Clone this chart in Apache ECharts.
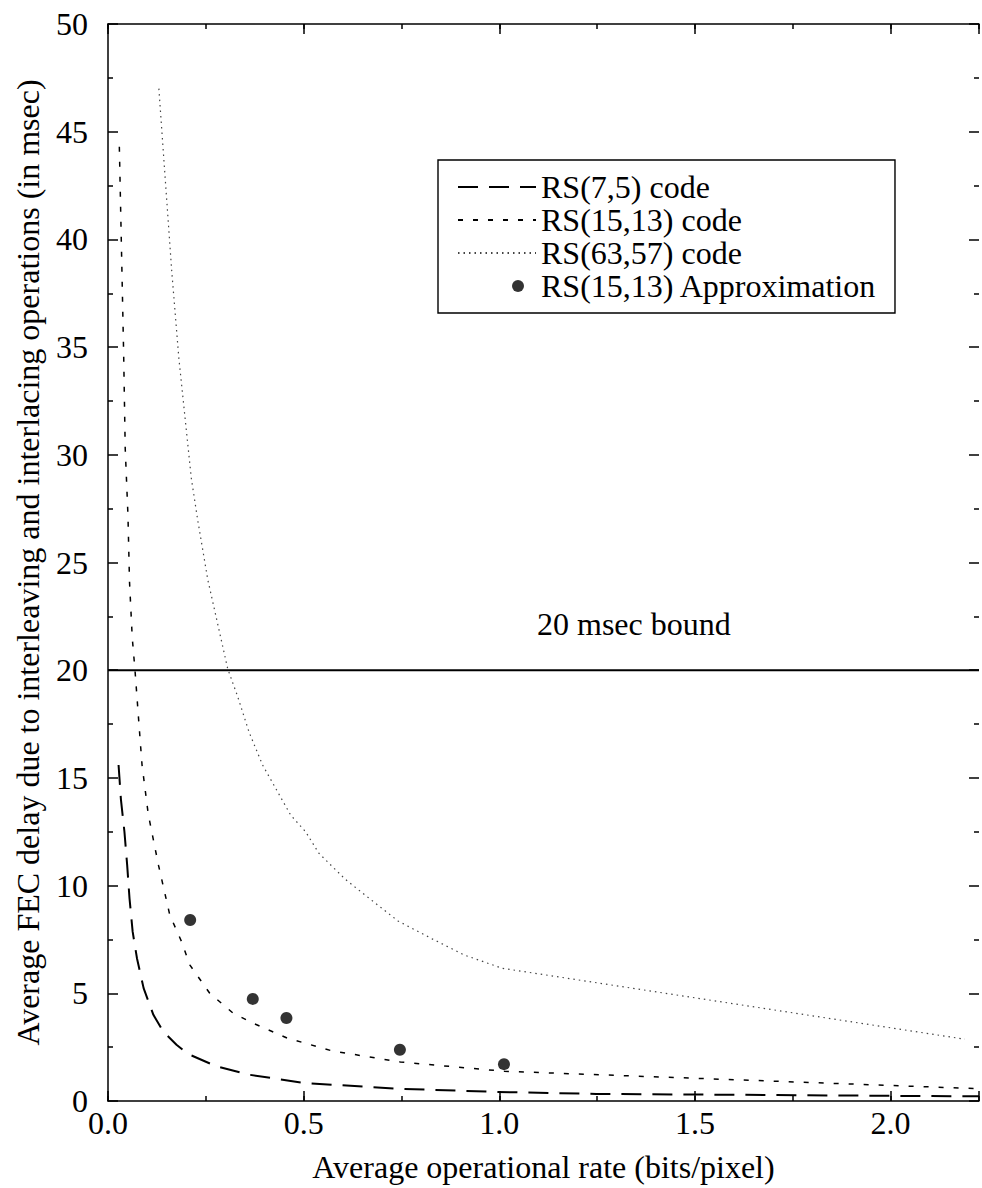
<!DOCTYPE html>
<html>
<head>
<meta charset="utf-8">
<title>FEC delay vs operational rate</title>
<script src="https://cdn.jsdelivr.net/npm/echarts@6/dist/echarts.min.js"></script>
<style>
  html, body { margin: 0; padding: 0; background: #fff; }
  #chart { width: 982px; height: 1188px; }
</style>
</head>
<body>
<div id="chart"></div>
<script>
// RS(7,5) code
const rs75X = [0.027, 0.033, 0.042, 0.049, 0.055, 0.063, 0.074, 0.091, 0.116, 0.141, 0.175, 0.205, 0.277, 0.361, 0.505, 0.741, 0.995, 1.248, 1.5, 2.0, 2.226];
const rs75Y = [15.6, 14.0, 12.5, 10.95, 9.4, 7.86, 6.63, 5.24, 4.0, 3.23, 2.61, 2.18, 1.61, 1.22, 0.83, 0.57, 0.42, 0.33, 0.3, 0.24, 0.22];

// RS(15,13) code
const rs1513X = [0.029, 0.040, 0.044, 0.051, 0.055, 0.062, 0.069, 0.082, 0.087, 0.103, 0.129, 0.158, 0.188, 0.209, 0.26, 0.319, 0.371, 0.458, 0.572, 0.747, 1.013, 2.226];
const rs1513Y = [44.3, 34.7, 30.3, 27.2, 24.1, 21.5, 20.0, 16.8, 15.6, 13.3, 10.95, 8.63, 7.4, 6.32, 5.0, 4.09, 3.61, 2.92, 2.33, 1.81, 1.38, 0.57];

// RS(63,57) code
const rs6357X = [0.13, 0.163, 0.181, 0.213, 0.229, 0.255, 0.276, 0.306, 0.331, 0.361, 0.395, 0.429, 0.467, 0.505, 0.539, 0.606, 0.657, 0.741, 0.826, 0.91, 1.008, 2.19];
const rs6357Y = [47.0, 38.5, 34.5, 28.9, 27.0, 24.2, 22.5, 20.06, 18.8, 17.1, 15.6, 14.5, 13.27, 12.5, 11.5, 10.3, 9.56, 8.36, 7.55, 6.78, 6.16, 2.87];

// RS(15,13) approximation
const approxX = [0.21, 0.37, 0.456, 0.746, 1.012];
const approxY = [8.4, 4.74, 3.85, 2.38, 1.71];

// delay bound
const boundValue = 20;
const boundLabel = '20 msec bound';

// axes
const xMin = 0, xMax = 2.226, xMajor = 0.5, xMinor = 0.25;
const yMin = 0, yMax = 50, yMajor = 5;
const xTitle = 'Average operational rate (bits/pixel)';
const yTitle = 'Average FEC delay due to interleaving and interlacing operations (in msec)';
const names = ['RS(7,5) code', 'RS(15,13) code', 'RS(63,57) code', 'RS(15,13) Approximation'];

const FONT = "'Liberation Serif', 'Times New Roman', Times, serif";
const BLACK = '#000';
const zip = (xs, ys) => xs.map((x, i) => [x, ys[i]]);

const chart = echarts.init(document.getElementById('chart'), null, { renderer: 'svg' });

const isMajor = v => Math.abs(v / xMajor - Math.round(v / xMajor)) < 1e-6;

function xAxisDef(position, interval, tickLen, showLine, showLabel) {
  return {
    type: 'value', position, min: xMin, max: xMax, interval,
    axisLine: { show: showLine, onZero: false, lineStyle: { color: BLACK, width: 1.5 } },
    axisTick: { show: true, inside: true, length: tickLen, lineStyle: { color: BLACK, width: 1.5 } },
    axisLabel: {
      show: showLabel, margin: 6, color: BLACK, fontFamily: FONT, fontSize: 32,
      formatter: v => (isMajor(v) ? v.toFixed(1) : '')
    },
    splitLine: { show: false },
    name: showLabel ? xTitle : '',
    nameLocation: 'middle', nameGap: 50,
    nameTextStyle: { color: BLACK, fontFamily: FONT, fontSize: 32 }
  };
}

function yAxisDef(position, showLine, showLabel) {
  return {
    type: 'value', position, min: yMin, max: yMax, interval: yMajor,
    axisLine: { show: showLine, onZero: false, lineStyle: { color: BLACK, width: 1.5 } },
    axisTick: { show: true, inside: true, length: 10, lineStyle: { color: BLACK, width: 1.5 } },
    minorTick: { show: true, splitNumber: 2, length: 5, lineStyle: { color: BLACK, width: 1.5 } },
    axisLabel: { show: showLabel, margin: 20, color: BLACK, fontFamily: FONT, fontSize: 32 },
    splitLine: { show: false },
    name: showLabel ? yTitle : '',
    nameLocation: 'middle', nameGap: 64, nameRotate: 90,
    nameTextStyle: { color: BLACK, fontFamily: FONT, fontSize: 32 }
  };
}

const lineLegendItem = name => ({ name, itemStyle: { opacity: 0 } });

const option = {
  backgroundColor: '#fff',
  animation: false,
  textStyle: { fontFamily: FONT },
  grid: { left: 108, top: 24, width: 878, bottom: 85, containLabel: false },
  xAxis: [
    xAxisDef('bottom', xMajor, 10, true, true),
    xAxisDef('bottom', xMinor, 5, false, false),
    xAxisDef('top', xMajor, 10, true, false),
    xAxisDef('top', xMinor, 5, false, false)
  ],
  yAxis: [
    yAxisDef('left', true, true),
    yAxisDef('right', false, false)
  ],
  legend: {
    orient: 'vertical',
    left: 438, top: 160,
    padding: [11, 18, 11, 19],
    itemWidth: 78, itemHeight: 14, itemGap: 1,
    borderColor: BLACK, borderWidth: 1.4,
    textStyle: { color: BLACK, fontFamily: FONT, fontSize: 32 },
    data: [
      lineLegendItem(names[0]),
      lineLegendItem(names[1]),
      lineLegendItem(names[2]),
      { name: names[3], icon: 'path://M0,0 M78,14 M66,7 A6,6 0 1,1 54,7 A6,6 0 1,1 66,7 Z' }
    ]
  },
  series: [
    {
      name: names[0], type: 'line', data: zip(rs75X, rs75Y),
      symbol: 'none', smooth: false, clip: true,
      itemStyle: { color: BLACK },
      lineStyle: { color: BLACK, width: 2, type: [20, 11] }
    },
    {
      name: names[1], type: 'line', data: zip(rs1513X, rs1513Y),
      symbol: 'none', smooth: false, clip: true,
      itemStyle: { color: BLACK },
      lineStyle: { color: BLACK, width: 1.5, type: [5, 10] }
    },
    {
      name: names[2], type: 'line', data: zip(rs6357X, rs6357Y),
      symbol: 'none', smooth: false, clip: true,
      itemStyle: { color: '#444' },
      lineStyle: { color: '#444', width: 1.2, type: [1.5, 4] }
    },
    {
      name: names[3], type: 'scatter', data: zip(approxX, approxY),
      symbol: 'circle', symbolSize: 12,
      itemStyle: { color: BLACK }
    },
    {
      name: 'bound', type: 'line',
      data: [[xMin, boundValue], [xMax, boundValue]],
      symbol: 'none', silent: true,
      itemStyle: { color: BLACK },
      lineStyle: { color: BLACK, width: 2, type: 'solid' },
      markPoint: {
        symbol: 'rect', symbolSize: 0,
        data: [{ coord: [1.344, 22.15], value: boundLabel }],
        label: {
          show: true, position: 'inside', formatter: boundLabel,
          color: BLACK, fontFamily: FONT, fontSize: 32
        }
      }
    }
  ]
};

chart.setOption(option);
</script>
</body>
</html>
